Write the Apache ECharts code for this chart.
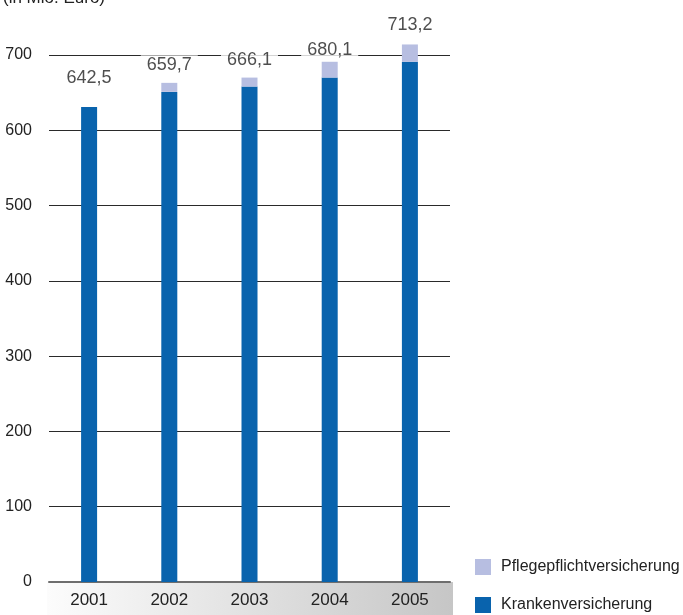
<!DOCTYPE html>
<html>
<head>
<meta charset="utf-8">
<script src="https://cdn.jsdelivr.net/npm/echarts@6/dist/echarts.min.js"></script>
<style>html,body{margin:0;padding:0;background:#fff}#c{width:683px;height:615px}</style>
</head>
<body>
<div id="c"></div>
<script>
var years = ['2001', '2002', '2003', '2004', '2005'];
var kranken = [631, 651, 658, 670, 691];
var pflege = [0, 12, 12, 21, 23];
var totals = [642.5, 659.7, 666.1, 680.1, 713.2];
var yTicks = [0, 100, 200, 300, 400, 500, 600, 700];

var FONT = 'Liberation Sans, Arial, sans-serif';
var chart = echarts.init(document.getElementById('c'), null, {renderer: 'canvas'});
chart.setOption({
  animation: false,
  textStyle: {fontFamily: FONT, color: '#222'},
  graphic: [
    {type: 'rect', z: -10, shape: {x: 47, y: 582, width: 406, height: 40},
     style: {fill: {type: 'linear', x: 0, y: 0, x2: 1, y2: 0,
       colorStops: [{offset: 0, color: '#fcfcfc'}, {offset: 1, color: '#c6c6c6'}]}}},
    {type: 'text', left: 3, top: -10,
     style: {text: '(in Mio. Euro)', font: '17px ' + FONT, fill: '#222'}}
  ],
  legend: {
    orient: 'vertical', left: 475, top: 559, padding: 0, height: 60,
    itemWidth: 16, itemHeight: 16, itemGap: 22,
    data: ['Pflegepflichtversicherung', 'Krankenversicherung'],
    textStyle: {fontSize: 16, color: '#222', fontFamily: FONT, padding: [0, 0, 0, 5]},
    icon: 'rect'
  },
  grid: {left: 49, top: 55, width: 401, bottom: 33, containLabel: false},
  xAxis: {
    type: 'category', data: years,
    axisLine: {lineStyle: {color: '#6e6e6e', width: 2}},
    axisTick: {show: false},
    axisLabel: {fontSize: 17, color: '#222', margin: 10, fontFamily: FONT}
  },
  yAxis: {
    type: 'value', min: yTicks[0], max: yTicks[yTicks.length - 1], interval: 100,
    axisLine: {show: false}, axisTick: {show: false},
    splitLine: {lineStyle: {color: '#2a2a2a', width: 1}},
    axisLabel: {fontSize: 16, color: '#222', margin: 17, fontFamily: FONT}
  },
  series: [
    {name: 'Krankenversicherung', type: 'bar', stack: 's', data: kranken,
     barWidth: 16, clip: false, itemStyle: {color: '#0963ad'}},
    {name: 'Pflegepflichtversicherung', type: 'bar', stack: 's', data: pflege,
     barWidth: 16, clip: false, itemStyle: {color: '#b7bee1'}},
    {name: 'Summe', type: 'scatter', data: totals, symbolSize: 0, clip: false, z: 5,
     label: {show: true, position: 'top', distance: 10, fontSize: 18, color: '#222',
       fontFamily: FONT, backgroundColor: '#fff', padding: [1, 6],
       formatter: function (p) { return String(p.value).replace('.', ','); }}}
  ]
});
</script>
</body>
</html>
